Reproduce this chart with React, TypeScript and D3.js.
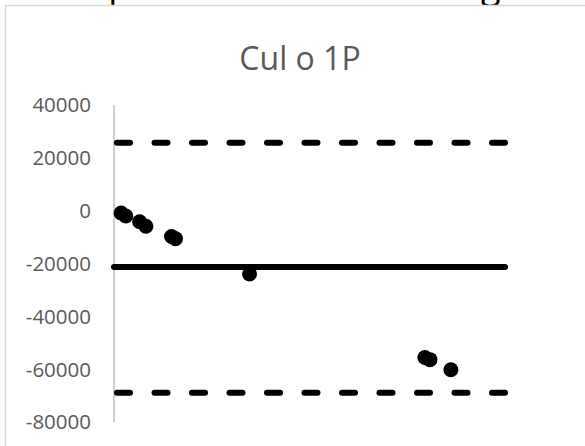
import React from "react";
import * as d3 from "d3";

const title = "Cul o 1P";
const yTicks = [40000, 20000, 0, -20000, -40000, -60000, -80000];
const pointX = [1.8, 3.0, 6.5, 8.1, 14.6, 15.6, 34.4, 78.9, 80.2, 85.5];
const pointY = [-900, -2000, -4200, -5900, -9800, -10600, -24000, -55600, -56400, -60200];
const meanLine = -21360;
const upperLimit = 25720;
const lowerLimit = -68900;
const xDomain = [0, 100];
const yDomain = [-80000, 40000];

export default function App() {
  const W = 585;
  const H = 446;
  const x = d3.scaleLinear().domain(xDomain).range([114, 508]);
  const y = d3.scaleLinear().domain(yDomain).range([422, 105]);
  const font = "'Open Sans', sans-serif";
  const lx0 = x(xDomain[0]) + 3;
  const lx1 = x(xDomain[1]) - 3;
  return (
    <svg
      width={W}
      height={H}
      style={{ position: "absolute", left: 0, top: 0, background: "#fff" }}
    >
      {/* cut-off text above the chart */}
      <text x={108.3} y={-2} fontFamily={font} fontSize={36} fill="#000">p</text>
      <text x={481} y={-2} fontFamily={font} fontSize={36} fill="#000">g</text>
      <rect x={5.5} y={5.5} width={620} height={470} fill="#fff" stroke="#d9d9d9" strokeWidth={1.5} />
      <text x={300} y={70} textAnchor="middle" fontFamily={font} fontSize={32} fill="#595959">
        {title}
      </text>
      {yTicks.map((t) => (
        <text
          key={t}
          x={91}
          y={y(t)}
          dy="0.36em"
          textAnchor="end"
          fontFamily={font}
          fontSize={20.5}
          fill="#595959"
        >
          {t}
        </text>
      ))}
      <line x1={114} x2={114} y1={y(40000)} y2={y(-80000)} stroke="#bfbfbf" strokeWidth={1.5} />
      <line x1={lx0} x2={lx1} y1={y(upperLimit)} y2={y(upperLimit)} stroke="#000" strokeWidth={6} strokeLinecap="round" strokeDasharray="13 24.5" />
      <line x1={lx0} x2={lx1} y1={y(lowerLimit)} y2={y(lowerLimit)} stroke="#000" strokeWidth={6} strokeLinecap="round" strokeDasharray="13 24.5" />
      <line x1={x(xDomain[0])} x2={lx1} y1={y(meanLine)} y2={y(meanLine)} stroke="#000" strokeWidth={6} strokeLinecap="round" />
      {pointX.map((px, i) => (
        <circle key={i} cx={x(px)} cy={y(pointY[i])} r={7.5} fill="#000" />
      ))}
    </svg>
  );
}
